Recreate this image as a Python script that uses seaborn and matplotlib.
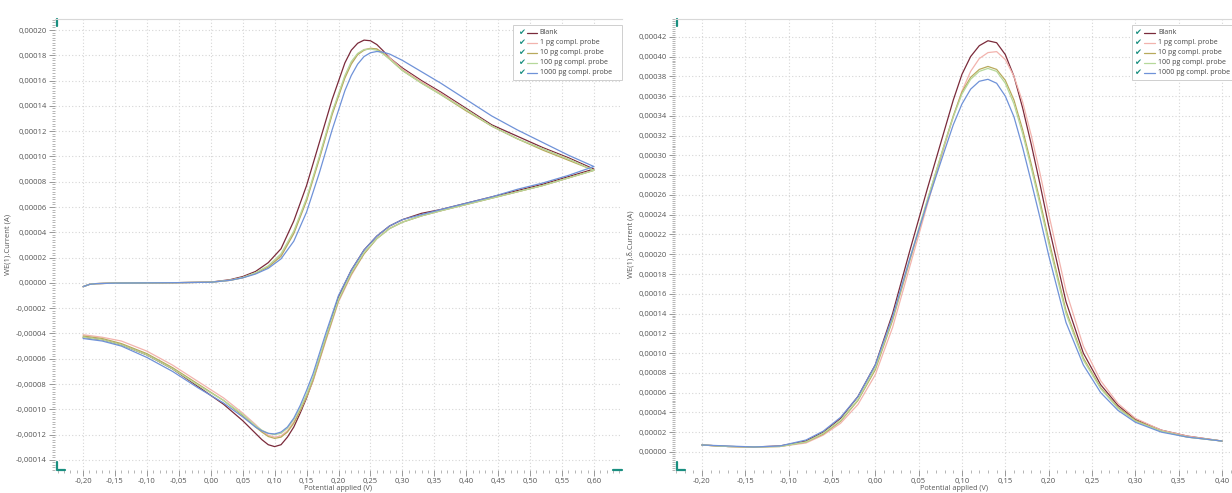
import matplotlib
matplotlib.use("Agg")
import matplotlib.pyplot as plt
import matplotlib.ticker as mticker
from matplotlib.patches import Rectangle
import numpy as np
import pandas as pd
import seaborn as sns

# ---- data (currents in microampere) ----
series = ["Blank", "1 pg compl. probe", "10 pg compl. probe",
          "100 pg compl. probe", "1000 pg compl. probe"]
colors = ["#7a2a3a", "#f2b3ad", "#b8aa5c", "#b6d89a", "#6f92d8"]

# cyclic voltammetry, forward scan
cv_fwd_e = [-0.20, -0.19, -0.18, -0.15, -0.10, -0.05, 0.00, 0.03, 0.05, 0.07,
            0.09, 0.11, 0.13, 0.15, 0.17, 0.19, 0.21, 0.22, 0.23, 0.24,
            0.25, 0.26, 0.27, 0.28, 0.30, 0.33, 0.36, 0.40, 0.44, 0.48,
            0.52, 0.56, 0.60]
cv_fwd_blank = [-3.0, -1.2, -0.6, -0.2, 0.0, 0.2, 0.6, 2.5, 5.0, 9.0,
                16, 27, 49, 77, 111, 145, 174, 184, 189.5, 192,
                191.5, 188.5, 183.5, 178, 170, 160, 151, 138, 125, 116,
                107, 99, 90]
cv_fwd_1pg = [-3.0, -1.2, -0.6, -0.2, 0.0, 0.2, 0.5, 2.0, 4.2, 7.8,
              13, 22, 40, 66, 99, 134, 163, 174, 181, 184.5,
              185.5, 185, 182, 178, 169, 159, 150, 137, 124, 114,
              106, 98, 89]
cv_fwd_10pg = [-3.0, -1.2, -0.6, -0.2, 0.0, 0.2, 0.5, 2.0, 4.0, 7.5,
               12.5, 21, 39, 65, 98, 133, 162, 173, 180.5, 184,
               185.5, 185, 181.5, 177, 168, 158, 149, 136, 124, 114,
               105, 97, 89]
cv_fwd_100pg = [-3.0, -1.2, -0.6, -0.2, 0.0, 0.2, 0.5, 2.1, 4.3, 8.0,
                13.5, 23, 41, 67, 100, 135, 164, 175, 181.5, 184.5,
                185, 184, 181, 177, 168, 158, 149, 137, 124, 114,
                106, 98, 89]
cv_fwd_1000pg = [-3.0, -1.2, -0.6, -0.2, 0.0, 0.2, 0.5, 2.0, 4.0, 7.0,
                 11.5, 19, 33, 56, 87, 121, 152, 164, 173, 179,
                 182, 183, 182.5, 181, 176, 167, 158, 145, 132, 121,
                 111, 101, 92]

# cyclic voltammetry, reverse scan
cv_rev_e = [0.60, 0.56, 0.52, 0.48, 0.44, 0.40, 0.36, 0.33, 0.30, 0.28,
            0.26, 0.24, 0.22, 0.20, 0.18, 0.16, 0.15, 0.14, 0.13, 0.12,
            0.11, 0.10, 0.09, 0.08, 0.07, 0.05, 0.02, -0.02, -0.06, -0.10,
            -0.14, -0.17, -0.20]
cv_rev_blank = [90, 84, 78, 73, 68, 63, 58, 55, 50, 45,
                37, 26, 10, -11, -44, -77, -91, -103, -114, -122,
                -128, -129.5, -128, -124, -119, -109, -96, -82, -68, -57,
                -49, -45, -43]
cv_rev_1pg = [89, 83, 77, 72, 67, 62, 57, 53, 48, 43,
              35, 23, 6, -15, -46, -78, -90, -101, -110, -117,
              -121, -122, -120.5, -117, -112, -103, -91, -78, -65, -54,
              -46, -43, -41]
cv_rev_10pg = [89, 83, 77, 72, 67, 62, 57, 53, 48, 43,
               35, 23, 7, -14, -45, -77, -90, -101, -111, -118,
               -122, -123, -121.5, -118, -114, -105, -93, -80, -67, -56,
               -48, -44, -42]
cv_rev_100pg = [89, 83, 77, 72, 67, 62, 57, 53, 48, 43,
                35, 24, 8, -13, -43, -75, -88, -99, -108, -115,
                -119, -120, -119, -116.5, -113, -104, -93, -81, -68, -57,
                -49, -45, -43]
cv_rev_1000pg = [92, 85, 79, 74, 68, 63, 58, 54, 50, 45,
                 37, 26, 10, -10, -40, -72, -85, -97, -107, -114,
                 -118, -119.5, -119, -117, -114, -106, -95, -83, -70, -59,
                 -50, -46, -44]

# differential pulse voltammetry
dpv_e = [-0.20, -0.17, -0.14, -0.11, -0.08, -0.06, -0.04, -0.02, 0.00, 0.02,
         0.04, 0.06, 0.08, 0.09, 0.10, 0.11, 0.12, 0.13, 0.14, 0.15,
         0.16, 0.17, 0.18, 0.19, 0.20, 0.22, 0.24, 0.26, 0.28, 0.30,
         0.33, 0.36, 0.40]
dpv_blank = [7.0, 5.5, 5.0, 6.0, 11, 20, 34, 56, 88, 140,
             204, 266, 326, 356, 382, 400, 411, 416, 414, 402,
             380, 348, 311, 271, 229, 152, 100, 68, 47, 33,
             22, 16, 11]
dpv_1pg = [7.0, 5.5, 5.0, 5.5, 9, 17, 29, 48, 78, 126,
           188, 250, 310, 339, 365, 385, 398, 404, 405, 397,
           380, 354, 320, 282, 241, 163, 107, 72, 49, 34,
           22, 16, 11]
dpv_10pg = [7.0, 5.5, 5.0, 5.5, 10, 18, 31, 52, 83, 133,
            194, 254, 312, 340, 364, 379, 387, 390, 387, 376,
            356, 326, 291, 254, 215, 143, 95, 65, 45, 32,
            21, 15, 11]
dpv_100pg = [7.0, 5.5, 5.0, 5.5, 10, 19, 32, 53, 85, 135,
             196, 255, 312, 339, 362, 377, 385, 388, 385, 373,
             352, 322, 287, 250, 211, 140, 93, 64, 44, 31,
             21, 15, 11]
dpv_1000pg = [7.0, 6.0, 5.0, 6.0, 12, 21, 35, 56, 88, 137,
              196, 252, 305, 331, 352, 367, 375, 377, 373, 360,
              339, 308, 273, 237, 199, 131, 88, 60, 42, 30,
              20, 15, 11]

cv_fwd = [cv_fwd_blank, cv_fwd_1pg, cv_fwd_10pg, cv_fwd_100pg, cv_fwd_1000pg]
cv_rev = [cv_rev_blank, cv_rev_1pg, cv_rev_10pg, cv_rev_100pg, cv_rev_1000pg]
dpv = [dpv_blank, dpv_1pg, dpv_10pg, dpv_100pg, dpv_1000pg]

# long tables for seaborn
rows = []
for name, f, r in zip(series, cv_fwd, cv_rev):
    for e, i in zip(cv_fwd_e + cv_rev_e, f + r):
        rows.append({"series": name, "E": e, "I": i * 1e-6})
cv_df = pd.DataFrame(rows)
rows = []
for name, d in zip(series, dpv):
    for e, i in zip(dpv_e, d):
        rows.append({"series": name, "E": e, "I": i * 1e-6})
dpv_df = pd.DataFrame(rows)

sns.set_style("white")
plt.rcParams["font.family"] = ["Open Sans", "DejaVu Sans"]

fig = plt.figure(figsize=(12.32, 4.93), dpi=100)
ax1 = fig.add_axes([55 / 1232, 23 / 493, 567 / 1232, 451 / 493])
ax2 = fig.add_axes([675 / 1232, 23 / 493, 557 / 1232, 451 / 493])

palette = dict(zip(series, colors))
sns.lineplot(data=cv_df, x="E", y="I", hue="series", units="series",
             estimator=None, sort=False, palette=palette, linewidth=0.9,
             legend=False, ax=ax1)
sns.lineplot(data=dpv_df, x="E", y="I", hue="series", units="series",
             estimator=None, sort=False, palette=palette, linewidth=0.9,
             legend=False, ax=ax2)


def yfmt(v, pos):
    if abs(v) < 1e-12:
        v = 0.0
    return f"{v:.5f}".replace(".", ",")


def xfmt(v, pos):
    if abs(v) < 1e-9:
        v = 0.0
    return f"{v:.2f}".replace(".", ",")


def style_axis(ax, xlim, ylim, xticks, yticks, ylabel, leg_pos):
    ax.set_xlim(*xlim)
    ax.set_ylim(*ylim)
    ax.xaxis.set_major_locator(mticker.FixedLocator(xticks))
    ax.yaxis.set_major_locator(mticker.FixedLocator(yticks))
    ax.xaxis.set_minor_locator(mticker.AutoMinorLocator(5))
    ax.yaxis.set_minor_locator(mticker.AutoMinorLocator(10))
    ax.xaxis.set_major_formatter(mticker.FuncFormatter(xfmt))
    ax.yaxis.set_major_formatter(mticker.FuncFormatter(yfmt))
    ax.tick_params(which="major", direction="out", length=4, width=0.6,
                   color="#888888", labelsize=5.5, labelcolor="#555555", pad=2)
    ax.tick_params(axis="x", which="major", pad=1.5)
    ax.tick_params(which="minor", direction="out", length=2, width=0.5,
                   color="#999999")
    ax.tick_params(axis="x", which="both", bottom=True)
    ax.tick_params(axis="y", which="both", left=True)
    ax.grid(True, which="major", color="#d6d6d6", linestyle=(0, (1, 2)),
            linewidth=0.8)
    for s in ["left", "bottom", "right"]:
        ax.spines[s].set_visible(False)
    ax.spines["top"].set_color("#d8d8d8")
    ax.spines["top"].set_linewidth(0.8)
    ax.set_xlabel("Potential applied (V)", fontsize=5.2, color="#555555",
                  labelpad=0)
    ax.set_ylabel(ylabel, fontsize=5.5, color="#555555", labelpad=3)

    # scroll markers of the instrument software
    teal = "#1a8f80"
    ax.plot([0.003, 0.003], [0.985, 1.0], color=teal, lw=1.6,
            transform=ax.transAxes, clip_on=False)
    ax.plot([0.003, 0.003, 0.018], [0.018, 0.0, 0.0], color=teal, lw=1.6,
            transform=ax.transAxes, clip_on=False)
    if leg_pos["end_marker"]:
        ax.plot([0.985, 1.0], [0.0, 0.0], color=teal, lw=1.6,
                transform=ax.transAxes, clip_on=False)

    # legend with check marks
    bx0, by0, bw, bh = leg_pos["box"]
    ax.add_patch(Rectangle((bx0, by0), bw, bh, transform=ax.transAxes,
                           facecolor="white", edgecolor="#cfcfcf", lw=0.7,
                           zorder=5, clip_on=False))
    top = 0.969
    step = 10 / 451
    for k, (name, c) in enumerate(zip(series, colors)):
        y = top - k * step
        ax.text(leg_pos["check"], y, "\u2714", color=teal, fontsize=6,
                ha="center", va="center", transform=ax.transAxes, zorder=6,
                family=["DejaVu Sans"])
        ax.plot(leg_pos["line"], [y, y], color=c, lw=0.9,
                transform=ax.transAxes, zorder=6, clip_on=False)
        ax.text(leg_pos["text"], y, name, color="#444444", fontsize=5,
                ha="left", va="center", transform=ax.transAxes, zorder=6)


style_axis(ax1, (-0.244, 0.644), (-0.000148, 0.0002087),
           np.round(np.arange(-0.20, 0.601, 0.05), 2),
           np.round(np.arange(-0.00014, 0.000201, 0.00002), 5),
           "WE(1).Current (A)",
           {"box": (0.808, 0.865, 0.192, 0.122), "check": 0.822,
            "line": [0.832, 0.850], "text": 0.855, "end_marker": True})
style_axis(ax2, (-0.231, 0.4115), (-0.0000183, 0.000438),
           np.round(np.arange(-0.20, 0.401, 0.05), 2),
           np.round(np.arange(0.0, 0.000421, 0.00002), 5),
           "WE(1).\u03b4.Current (A)",
           {"box": (0.820, 0.865, 0.180, 0.122), "check": 0.831,
            "line": [0.842, 0.862], "text": 0.867, "end_marker": False})

fig.savefig("out.png", dpi=100, facecolor="white")
